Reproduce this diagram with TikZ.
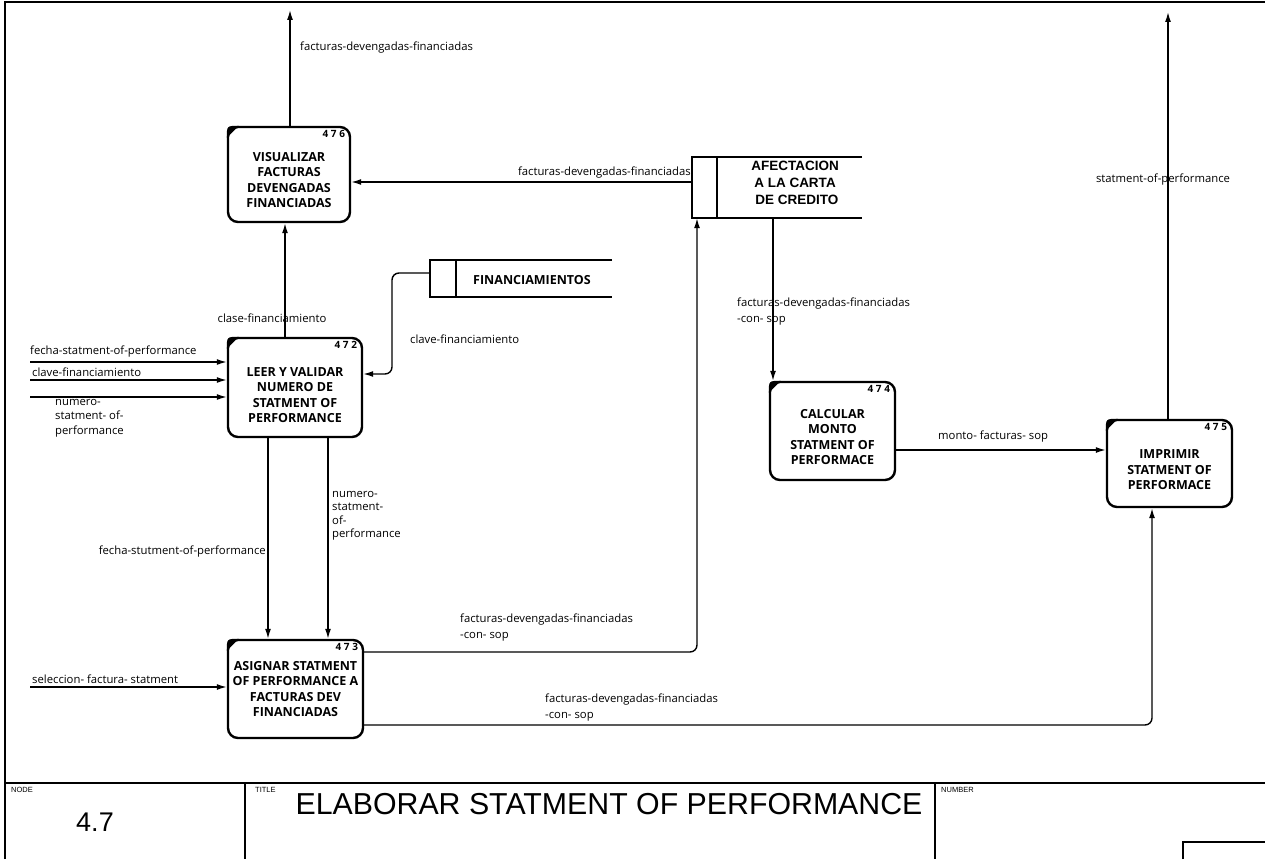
\documentclass[tikz,border=0pt]{standalone}
\usepackage{fontspec}
\setmainfont{Open Sans}
\newfontfamily\helv{Liberation Sans}
\usetikzlibrary{arrows.meta}
\tikzset{
  proc/.style={draw, line width=2.4pt, rounded corners=10pt, inner sep=0pt},
  ptext/.style={align=center, font=\bfseries\fontsize{12.5}{15.5}\selectfont, inner sep=0pt},
  pnum/.style={font=\bfseries\fontsize{10}{11}\selectfont, inner sep=0pt, anchor=north east},
  flow/.style={line width=1.4pt, -{Latex[length=10pt,width=6pt]}, rounded corners=7pt},
  lbl/.style={font=\fontsize{11.3}{14}\selectfont, inner sep=0pt},
  storebox/.style={inner sep=0pt},
  storeline/.style={line width=2pt},
  frameline/.style={line width=1.6pt},
  tiny/.style={font=\helv\fontsize{7.5}{8}\selectfont, inner sep=0pt, anchor=north west},
}
\newcommand{\cmark}[1]{\fill ([yshift=-12pt]#1.north west) .. controls (#1.north west) .. ([xshift=12pt]#1.north west) -- cycle;}
\begin{document}
\begin{tikzpicture}[x=1pt,y=-1pt]
\useasboundingbox (0,0) rectangle (1265,859);

% frame and title block
\draw[frameline] (5,859) -- (5,2) -- (1265,2);
\draw[frameline] (5,783) -- (1265,783);
\draw[frameline] (245,783) -- (245,859);
\draw[frameline] (935,783) -- (935,859);
\draw[frameline] (1183,859) -- (1183,842) -- (1265,842);
\node[tiny] (tnode) at (11,787) {NODE};
\node[font=\helv\fontsize{27}{29}\selectfont, inner sep=0pt] (tnum) at (95,822) {4.7};
\node[tiny] (ttitle) at (255,787) {TITLE};
\node[font=\helv\fontsize{30.3}{33}\selectfont, inner sep=0pt] (ttext) at (609,804) {ELABORAR STATMENT OF PERFORMANCE};
\node[tiny] (tnumber) at (941,787) {NUMBER};

% processes
\node[proc, minimum width=122pt, minimum height=95pt] (v) at (289,174.5) {};
\node[ptext] (vt) at (289,180) {VISUALIZAR\\FACTURAS\\DEVENGADAS\\FINANCIADAS};
\node[pnum] (vn) at ([shift={(-6pt,-4pt)}]v.north east) {4 7 6};
\cmark{v}

\node[proc, minimum width=134pt, minimum height=99pt] (l) at (295,387.5) {};
\node[ptext] (lt) at (295,395) {LEER Y VALIDAR\\NUMERO DE\\STATMENT OF\\PERFORMANCE};
\node[pnum] (ln) at ([shift={(-6pt,-4pt)}]l.north east) {4 7 2};
\cmark{l}

\node[proc, minimum width=135pt, minimum height=98pt] (a) at (295.5,689) {};
\node[ptext] (at) at (295.5,689) {ASIGNAR STATMENT\\OF PERFORMANCE A\\FACTURAS DEV\\FINANCIADAS};
\node[pnum] (an) at ([shift={(-6pt,-4pt)}]a.north east) {4 7 3};
\cmark{a}

\node[proc, minimum width=125pt, minimum height=98pt] (c) at (832.5,431) {};
\node[ptext] (ct) at (832.5,437) {CALCULAR\\MONTO\\STATMENT OF\\PERFORMACE};
\node[pnum] (cn) at ([shift={(-6pt,-4pt)}]c.north east) {4 7 4};
\cmark{c}

\node[proc, minimum width=125pt, minimum height=87pt] (i) at (1169.5,463.5) {};
\node[ptext] (it) at (1169.5,470) {IMPRIMIR\\STATMENT OF\\PERFORMACE};
\node[pnum] (inum) at ([shift={(-6pt,-4pt)}]i.north east) {4 7 5};
\cmark{i}

% data stores
\node[storebox, minimum width=170pt, minimum height=61pt] (af) at (777,187.5) {};
\draw[storeline] (af.north east) -- (af.north west) -- (af.south west) -- (af.south east);
\draw[storeline] (717,157) -- (717,218);
\node[align=center, font=\helv\bfseries\fontsize{13.5}{17}\selectfont, inner sep=0pt] (aft) at (795,183) {AFECTACION\\A LA CARTA\\\ DE CREDITO};

\node[storebox, minimum width=182pt, minimum height=37pt] (fi) at (521,278.5) {};
\draw[storeline] (fi.north east) -- (fi.north west) -- (fi.south west) -- (fi.south east);
\draw[storeline] (456,260) -- (456,297);
\node[font=\bfseries\fontsize{12.5}{14}\selectfont, inner sep=0pt] (fit) at (532,280) {FINANCIAMIENTOS};

% free ends
\coordinate (vout) at (290,10);
\coordinate (iout) at (1168,12);
\coordinate (in1) at (30,362);
\coordinate (in2) at (30,380);
\coordinate (in3) at (30,397);
\coordinate (in4) at (30,687);

% connectors
\draw[flow] (v.north -| vout) -- (vout);
\draw[flow] (af.west |- 0,182) -- (v.east |- 0,182);
\draw[flow] (l.north -| 285,0) -- (v.south -| 285,0);
\draw[flow] (fi.west |- 0,273) -- (392,273) -- (392,374) -- (l.east |- 0,374);
\draw[flow] (in1) -- (l.west |- in1);
\draw[flow] (in2) -- (l.west |- in2);
\draw[flow] (in3) -- (l.west |- in3);
\draw[flow] (l.south -| 268,0) -- (a.north -| 268,0);
\draw[flow] (l.south -| 328,0) -- (a.north -| 328,0);
\draw[flow] (in4) -- (a.west |- in4);
\draw[flow] (a.east |- 0,652) -- (697,652) -- (af.south -| 697,0);
\draw[flow] (a.east |- 0,725) -- (1152,725) -- (i.south -| 1152,0);
\draw[flow] (af.south -| 773,0) -- (c.north -| 773,0);
\draw[flow] (c.east |- 0,450) -- (i.west |- 0,450);
\draw[flow] (i.north -| iout) -- (iout);

% labels
\node[lbl, anchor=west] (l1) at (300,48) {facturas-devengadas-financiadas};
\node[lbl, anchor=east] (l2) at (691,173) {facturas-devengadas-financiadas};
\node[lbl] (l3) at (272,318) {clase-financiamiento};
\node[lbl, anchor=west] (l4) at (410,339) {clave-financiamiento};
\node[lbl, anchor=west] (l5) at (30,352) {fecha-statment-of-performance};
\node[lbl, anchor=west] (l6) at (32,372) {clave-financiamiento};
\node[lbl, anchor=north west, align=left, font=\fontsize{11.3}{14.5}\selectfont] (l7) at (55,399) {numero-\\statment- of-\\performance};
\node[lbl, anchor=east] (l8) at (266,552) {fecha-stutment-of-performance};
\node[lbl, anchor=north west, align=left, font=\fontsize{11.3}{13.5}\selectfont] (l9) at (332,491) {numero-\\statment-\\of-\\performance};
\node[lbl, anchor=west] (l10) at (32,679) {seleccion- factura- statment};
\node[lbl, anchor=north west, align=left, font=\fontsize{11.3}{16}\selectfont] (l11) at (460,614) {facturas-devengadas-financiadas\\-con- sop};
\node[lbl, anchor=north west, align=left, font=\fontsize{11.3}{16}\selectfont] (l12) at (545,694) {facturas-devengadas-financiadas\\-con- sop};
\node[lbl, anchor=north west, align=left, font=\fontsize{11.3}{16}\selectfont] (l13) at (737,298) {facturas-devengadas-financiadas\\-con- sop};
\node[lbl, anchor=west] (l14) at (938,437) {monto- facturas- sop};
\node[lbl] (l15) at (1163,180) {statment-of-performance};
\end{tikzpicture}
\end{document}
